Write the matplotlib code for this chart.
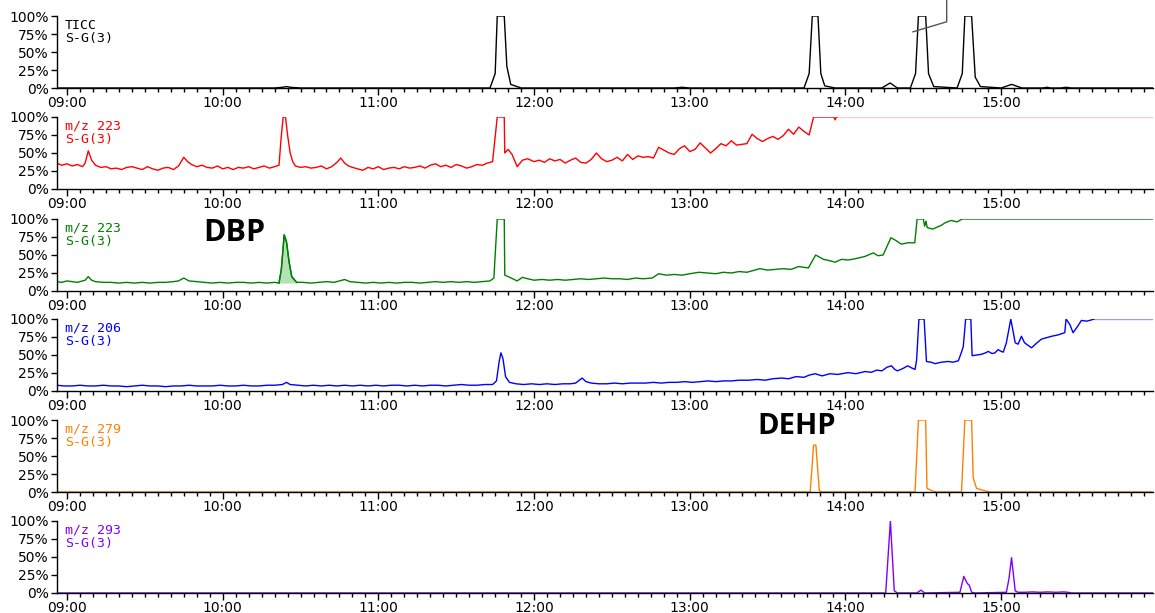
import numpy as np
import matplotlib.pyplot as plt
from matplotlib.ticker import MultipleLocator, FuncFormatter

# time in minutes after 09:00, intensity in %
ticc_t = [-4, 80, 83, 84.6, 86, 90, 163, 165, 165.8, 168.5,
          169.5, 171, 175, 234, 237, 240, 284, 286, 287.2, 289.4,
          290.5, 292, 296, 314, 317.2, 320, 325, 327, 328.1, 330.9,
          332, 334, 343, 345, 346, 348.6, 350, 352, 360, 364,
          368, 376, 377.7, 379, 383, 385, 387, 420]
ticc_v = [0, 0, 1, 2, 1, 0, 0, 20, 100, 100,
          30, 5, 0, 0, 1, 0, 0, 20, 100, 100,
          20, 3, 0, 0, 7, 0, 0, 20, 100, 100,
          20, 2, 0, 20, 100, 100, 15, 2, 0, 5,
          0, 0, 1, 0, 0, 1, 0, 0]

red_t = [-4, -2, 0, 2, 4, 6, 7, 8.2, 9.5, 11,
         13, 15, 17, 19, 21, 23, 25, 27, 29, 31,
         33, 35, 37, 39, 41, 43, 45, 46.5, 48, 50,
         52, 54, 56, 58, 60, 62, 64, 66, 68, 70,
         72, 74, 76, 78, 80, 81.7, 82.5, 83.3, 84.2, 85,
         86, 87, 88, 90, 92, 94, 96, 98, 100, 102,
         104, 105.5, 107, 108.5, 110, 112, 114, 116, 118, 120,
         122, 124, 126, 128, 130, 132, 134, 136, 138, 140,
         142, 144, 146, 148, 150, 152, 154, 156, 158, 160,
         162, 164, 165.8, 168.5, 168.7, 170, 171.5, 173.5, 175.5, 177.5,
         180, 182, 184, 186, 188, 190, 192, 194, 196, 198,
         200, 202, 204, 206, 208, 210, 212, 214, 216, 218,
         220, 222, 224, 226, 228, 230, 232, 234, 236, 238,
         240, 242, 244, 246, 248, 250, 252, 254, 256, 258,
         260, 262, 264, 266, 268, 270, 272, 274, 276, 278,
         280, 282, 284, 286, 287.7, 295.5, 296, 296.5, 297, 420]
red_v = [36, 33, 35, 32, 34, 31, 36, 53, 40, 33,
         30, 31, 28, 29, 27, 30, 31, 29, 27, 31,
         28, 26, 29, 30, 27, 32, 44, 38, 34, 31,
         33, 30, 29, 32, 28, 30, 27, 30, 29, 31,
         28, 30, 32, 29, 31, 33, 70, 100, 100, 75,
         50, 38, 32, 30, 31, 29, 30, 32, 28, 31,
         37, 43, 36, 32, 30, 28, 26, 30, 28, 31,
         27, 29, 30, 28, 31, 29, 30, 32, 29, 33,
         35, 31, 33, 30, 34, 32, 29, 31, 34, 33,
         36, 38, 100, 100, 50, 55, 48, 31, 40, 42,
         38, 40, 37, 42, 39, 41, 36, 40, 43, 37,
         36, 41, 50, 42, 38, 40, 44, 39, 48, 41,
         46, 44, 45, 43, 58, 54, 50, 48, 56, 60,
         52, 55, 64, 57, 50, 56, 63, 60, 67, 61,
         62, 63, 76, 70, 66, 70, 73, 69, 74, 83,
         76, 86, 80, 75, 100, 100, 96, 100, 100, 100]

green_t = [-4, -2, 0, 2, 4, 6, 7, 8.2, 9.5, 11,
           14, 17, 20, 23, 26, 29, 32, 35, 38, 41,
           43, 45, 47, 50, 53, 56, 59, 62, 65, 68,
           71, 74, 77, 80, 81.7, 82.6, 83.7, 84.6, 85.6, 86.6,
           88.5, 91, 94, 97, 100, 103, 105, 107, 109, 112,
           115, 118, 121, 124, 127, 130, 133, 136, 139, 142,
           145, 148, 151, 154, 157, 160, 163, 164.5, 165.8, 168.5,
           168.7, 170, 173.5, 175.5, 177.5, 180, 183, 186, 189, 192,
           195, 198, 201, 204, 207, 210, 213, 216, 219, 222,
           225.5, 228, 231, 234, 237, 240, 243.5, 247, 250, 253,
           256, 259, 262, 264, 267, 270, 273, 276, 279, 282,
           285.7, 288.5, 290, 291.5, 294, 296, 298.5, 301, 304, 307.5,
           310.7, 312.5, 314.5, 317.5, 319.5, 321.5, 324, 326.7, 327.6, 330,
           330.5, 331, 331.5, 333.6, 336.8, 338.5, 340.7, 343, 345, 420]
green_v = [13, 12, 14, 13, 12, 14, 15, 20, 15, 13,
           12, 12, 11, 12, 11, 12, 11, 12, 12, 13,
           14, 18, 14, 13, 12, 11, 12, 11, 12, 12,
           11, 12, 11, 12, 11, 30, 78, 68, 40, 20,
           12, 12, 11, 12, 13, 12, 14, 16, 13, 12,
           11, 12, 11, 12, 11, 12, 12, 11, 12, 13,
           12, 13, 12, 13, 12, 13, 14, 18, 100, 100,
           22, 20, 14, 19, 17, 15, 16, 15, 16, 15,
           16, 17, 16, 17, 18, 17, 17, 16, 18, 17,
           18, 24, 22, 23, 22, 24, 26, 25, 24, 26,
           25, 27, 26, 28, 31, 29, 30, 31, 30, 34,
           32, 50, 47, 44, 42, 40, 44, 43, 45, 48,
           53, 49, 50, 74, 70, 65, 67, 67, 100, 100,
           90, 97, 88, 86, 91, 95, 98, 96, 100, 100]

blue_t = [-4, -1, 2, 5, 8, 11, 14, 17, 20, 23,
          26, 29, 32, 35, 38, 41, 44, 47, 50, 53,
          56, 59, 62, 65, 68, 71, 74, 77, 80, 83,
          84.6, 86, 89, 92, 95, 98, 101, 104, 107, 110,
          113, 116, 119, 122, 125, 128, 131, 134, 137, 140,
          143, 146, 149, 152, 155, 158, 161, 164, 165.5, 166.5,
          167.2, 168, 169, 170.5, 173, 176, 179, 182, 185, 188,
          191, 194, 196, 198.5, 200, 202, 205, 208, 211, 214,
          217, 220, 223, 226, 229, 232, 235, 238, 241, 244,
          247, 250, 253, 256, 259, 262.7, 266, 269, 272, 275.4,
          278, 281, 284, 286, 288.3, 291, 294, 297, 301, 304,
          307.5, 310, 312, 314, 316, 317.7, 319, 320, 322, 324,
          325.5, 326.8, 327.4, 328.3, 330.3, 331.2, 333, 334.5, 337, 339.6,
          341.5, 343.5, 344.8, 345.4, 346.3, 348.3, 348.8, 350.5, 352.4, 354,
          355, 356.5, 357.6, 358.8, 360, 360.8, 362, 363.7, 365.4, 366.5,
          367.8, 369, 370.5, 371.7, 373.5, 375.5, 377.5, 379.4, 382, 384.5,
          385, 386.5, 387.7, 389.5, 390.9, 393, 396, 420]
blue_v = [8, 7, 7, 8, 7, 7, 8, 7, 7, 6,
          7, 8, 7, 7, 6, 7, 7, 8, 7, 7,
          7, 8, 7, 7, 8, 7, 7, 8, 8, 9,
          12, 9, 8, 7, 8, 7, 8, 7, 8, 7,
          8, 7, 8, 7, 8, 8, 7, 8, 7, 8,
          8, 7, 8, 9, 8, 8, 9, 9, 14, 40,
          53, 45, 20, 12, 10, 9, 10, 9, 10, 9,
          10, 10, 11, 18, 13, 11, 10, 10, 11, 10,
          11, 11, 11, 12, 11, 12, 12, 13, 12, 13,
          14, 13, 14, 14, 15, 15, 16, 15, 17, 18,
          17, 20, 19, 22, 24, 21, 24, 23, 25.5, 24,
          27, 26, 29, 28, 33, 35, 30, 28, 31, 35,
          32, 30, 43, 100, 100, 41, 40, 38, 40, 41,
          40, 42, 55, 62, 100, 100, 49, 50, 51, 53,
          55, 52, 53, 57.5, 55, 54, 67, 100, 67, 65,
          76, 67, 63, 60, 66, 72, 74, 76, 78, 81,
          100, 92, 81, 90, 98, 97, 100, 100]

orange_t = [-4, 286.4, 287.7, 288.6, 289.9, 290.8, 326.8, 328.1, 330.9, 331.4,
            333.8, 335, 344.7, 346, 348.6, 349.2, 350.5, 354.3, 356, 420]
orange_v = [0, 0, 65, 65, 2, 0, 0, 100, 100, 5,
            1, 0, 0, 100, 100, 20, 5, 1, 0, 0]

purple_t = [-4, 315.5, 317.3, 318.8, 320, 327.5, 329.1, 330.5, 344.1, 345.6,
            346.8, 347.3, 347.7, 348.6, 350, 362, 363, 364, 365.4, 366.5,
            369, 372, 375, 378, 381, 384, 385.8, 387, 420]
purple_v = [0, 0, 100, 3, 0, 0, 4, 0, 1, 23,
            14, 12, 11, 1, 0, 1, 20, 49, 3, 1,
            1, 1.5, 1, 1.5, 1, 1.5, 1, 0, 0]

labels = ["TICC\nS-G(3)", "m/z 223\nS-G(3)", "m/z 223\nS-G(3)",
          "m/z 206\nS-G(3)", "m/z 279\nS-G(3)", "m/z 293\nS-G(3)"]
colors = ["black", "#ff0000", "#008000", "#0000ff", "#ff8000", "#8000ff"]
tails = [None, "#ffc8c8", None, "#9999ff", None, None]
series = [(ticc_t, ticc_v), (red_t, red_v), (green_t, green_v),
          (blue_t, blue_v), (orange_t, orange_v), (purple_t, purple_v)]
tail_start = [None, 304, None, 396, None, None]

# stray pointer line at the top of the TICC panel
pointer_t = [326, 339, 339]
pointer_v = [78, 92, 130]

W, H = 1155, 613
panel_bottom = [88, 189, 291, 391, 492, 593]
panel_h = 72
left_px = 57


def fmt_time(m, pos):
    m = int(round(m))
    return f"{9 + m // 60:02d}:{m % 60:02d}"


fig = plt.figure(figsize=(W / 100, H / 100), dpi=100)
for i in range(6):
    ax = fig.add_axes([left_px / W, 1 - panel_bottom[i] / H,
                       (W - left_px - 2) / W, panel_h / H])
    t = np.array(series[i][0])
    v = np.array(series[i][1])
    if tail_start[i] is None:
        ax.plot(t, v, color=colors[i], lw=1.0)
    else:
        m = t <= tail_start[i]
        ax.plot(t[m], v[m], color=colors[i], lw=1.0)
        k = np.argmax(~m) - 1
        ax.plot(t[k:], v[k:], color=tails[i], lw=1.0)
    if i == 2:
        seg = (t >= 81.7) & (t <= 88.5)
        ax.fill_between(t[seg], v[seg], 11, color="#b8e0b8", lw=0)
        ax.plot(t[seg], v[seg], color=colors[i], lw=1.0)
    if i == 0:
        ax.plot(pointer_t, pointer_v, color="#555555", lw=1.0, clip_on=False)

    ax.set_xlim(-3.85, 418.5)
    ax.set_ylim(0, 100)
    ax.set_xticks(range(0, 361, 60))
    ax.xaxis.set_minor_locator(MultipleLocator(5))
    ax.xaxis.set_major_formatter(FuncFormatter(fmt_time))
    ax.set_yticks([0, 25, 50, 75, 100])
    ax.set_yticklabels(["0%", "25%", "50%", "75%", "100%"])
    ax.tick_params(axis="x", which="major", length=5, width=1, labelsize=10, pad=0.5)
    ax.tick_params(axis="x", which="minor", length=3, width=1)
    ax.tick_params(axis="y", length=4, width=1, labelsize=10, pad=2)
    for s in ["top", "right"]:
        ax.spines[s].set_visible(False)
    for s in ["left", "bottom"]:
        ax.spines[s].set_linewidth(1.0)
    ax.patch.set_alpha(0)
    ax.text(0.007, 0.96, labels[i], transform=ax.transAxes, va="top", ha="left",
            family="DejaVu Sans Mono", fontsize=9.5, color=colors[i],
            linespacing=1.05)

fig.text(234 / W, 1 - 233 / H, "DBP", fontsize=22, fontweight="bold",
         family="Open Sans", ha="center", va="center")
fig.text(797 / W, 1 - 426 / H, "DEHP", fontsize=21, fontweight="bold",
         family="Open Sans", ha="center", va="center")

fig.savefig("out.png", dpi=100)
